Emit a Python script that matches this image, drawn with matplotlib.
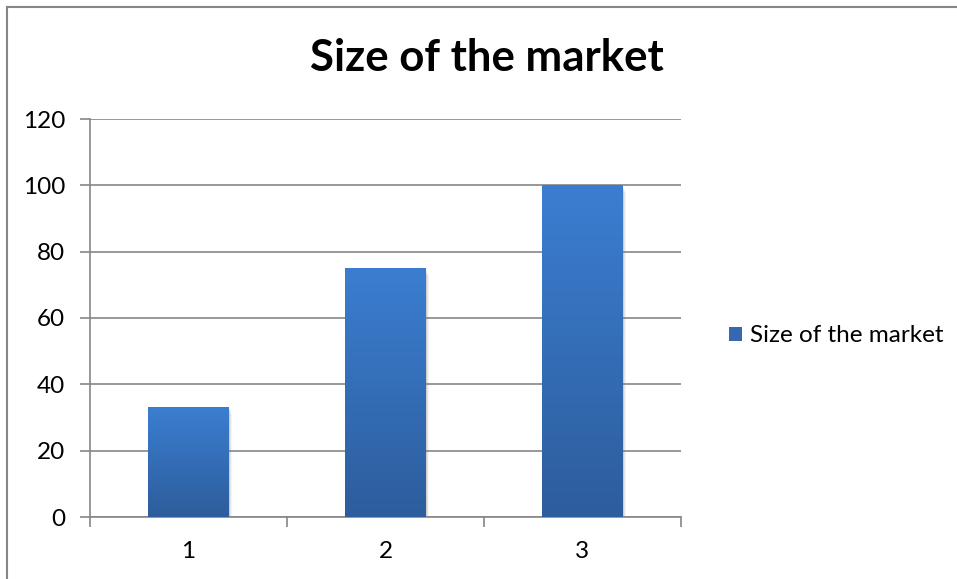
import numpy as np
import matplotlib.pyplot as plt
from matplotlib.colors import LinearSegmentedColormap
from matplotlib.lines import Line2D
from matplotlib.patches import Patch

categories = ['1', '2', '3']
market_size = [33.3, 75, 100]
series_name = 'Size of the market'
y_ticks = [0, 20, 40, 60, 80, 100, 120]

plt.rcParams['font.family'] = ['Lato', 'DejaVu Sans']
grey = '#868686'

W, H = 957, 579
fig = plt.figure(figsize=(W / 100, H / 100), dpi=100)
ax = fig.add_axes([90 / W, (H - 517) / H, 591 / W, 398 / H])

pos = np.arange(len(categories))
bar_w = 0.41

# soft drop shadow behind the bars (a few stacked translucent layers)
for k, a in [(0.006, 0.18), (0.012, 0.12), (0.018, 0.07)]:
    ax.bar(pos + k, market_size, width=bar_w, bottom=-k * 120, color='0.45',
           alpha=a, zorder=2.5, linewidth=0)

bars = ax.bar(pos, market_size, width=bar_w, color='none', linewidth=0, zorder=3)

# vertical gradient fill, darker at the bottom
cmap = LinearSegmentedColormap.from_list('blue_grad', ['#2d5d9c', '#3b7ed1'])
grad = np.linspace(0, 1, 256).reshape(-1, 1)
for b in bars:
    x0, y0, w, h = b.get_x(), b.get_y(), b.get_width(), b.get_height()
    im = ax.imshow(grad, extent=[x0, x0 + w, y0, y0 + h], origin='lower',
                   cmap=cmap, aspect='auto', zorder=3)
    im.set_clip_path(b)

ax.set_xlim(-0.5, len(categories) - 0.5)
ax.set_ylim(0, 120)
ax.set_yticks(y_ticks)

# category boundaries carry the tick marks, labels sit in between
ax.set_xticks(np.arange(len(categories) + 1) - 0.5)
ax.set_xticklabels([])
ax.set_xticks(pos, minor=True)
ax.set_xticklabels(categories, minor=True)
ax.tick_params(axis='x', which='major', length=7, width=1.2, color=grey)
ax.tick_params(axis='x', which='minor', length=0, pad=17, labelsize=17.5)
ax.tick_params(axis='y', length=7, width=1.2, color=grey, pad=11, labelsize=17.5)

ax.yaxis.grid(True, color=grey, linewidth=1.2)
ax.set_axisbelow(True)
for s in ['top', 'right']:
    ax.spines[s].set_visible(False)
for s in ['left', 'bottom']:
    ax.spines[s].set_color(grey)
    ax.spines[s].set_linewidth(1.2)

fig.text(487 / W, 1 - 58 / H, 'Size of the market', ha='center', va='center',
         fontsize=31.5, fontweight='bold')

handle = Patch(facecolor='#3468b0', edgecolor='none')
fig.legend([handle], [series_name], loc='center left',
           bbox_to_anchor=(729 / W, 1 - 336 / H), frameon=False,
           handlelength=0.55, handleheight=0.55, handletextpad=0.3,
           borderpad=0, borderaxespad=0, fontsize=17.5)

# chart area border (left and top edges)
fig.add_artist(Line2D([7.5 / W, 7.5 / W], [0, 1 - 6.5 / H],
                      transform=fig.transFigure, color=grey, linewidth=1.5))
fig.add_artist(Line2D([7.5 / W, 1], [1 - 6.5 / H, 1 - 6.5 / H],
                      transform=fig.transFigure, color=grey, linewidth=1.5))

fig.savefig('out.png', dpi=100)
